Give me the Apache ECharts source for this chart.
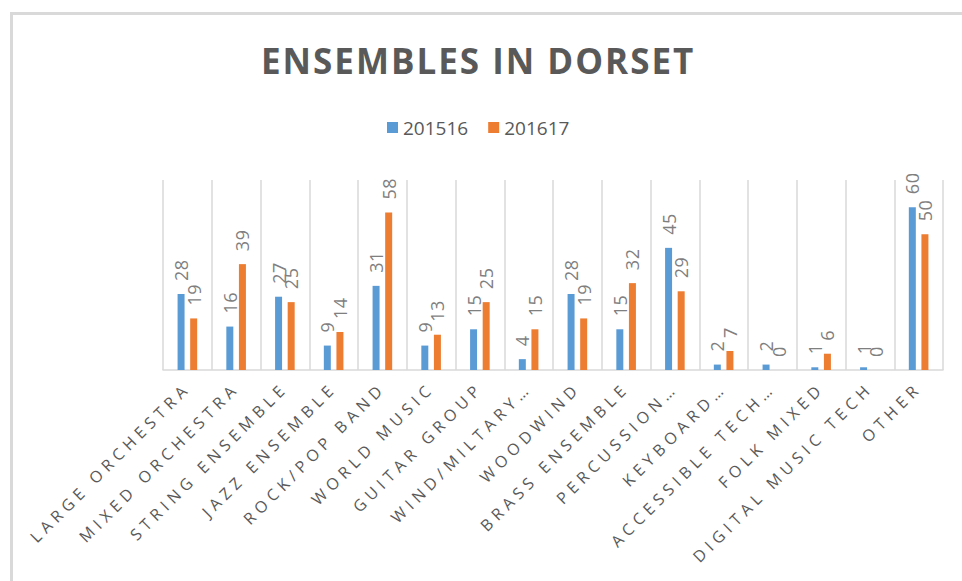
<!DOCTYPE html>
<html>
<head>
<meta charset="utf-8">
<script src="https://cdn.jsdelivr.net/npm/echarts@6/dist/echarts.min.js"></script>
<style>
  html, body { margin: 0; padding: 0; background: #fff; }
  .frame {
    position: absolute;
    left: 10px;
    top: 12px;
    width: 960px;
    height: 580px;
    border-top: 3px solid #d9d9d9;
    border-left: 3px solid #d9d9d9;
  }
  .echartsBox {
    position: absolute;
    left: 0;
    top: 0;
    width: 962px;
    height: 581px;
  }
  /* excel style spaced caps */
  #myChart text { letter-spacing: 5px; }
  #myChart text[style*="35px"] { letter-spacing: 2px; }
  #myChart text[style*="18px"] { letter-spacing: 0.5px; }
  #myChart text[style*="19px"] { letter-spacing: 0px; }
</style>
</head>
<body>
<div class="frame"></div>
<div id="myChart" class="echartsBox"></div>
<script>
const categories = [
  'LARGE ORCHESTRA', 'MIXED ORCHESTRA', 'STRING ENSEMBLE', 'JAZZ ENSEMBLE',
  'ROCK/POP BAND', 'WORLD MUSIC', 'GUITAR GROUP', 'WIND/MILTARY…',
  'WOODWIND', 'BRASS ENSEMBLE', 'PERCUSSION…', 'KEYBOARD…',
  'ACCESSIBLE TECH…', 'FOLK MIXED', 'DIGITAL MUSIC TECH', 'OTHER'
];
const series201516 = [28, 16, 27, 9, 31, 9, 15, 4, 28, 15, 45, 2, 2, 1, 1, 60];
const series201617 = [19, 39, 25, 14, 58, 13, 25, 15, 19, 32, 29, 7, 0, 6, 0, 50];

const font = '"Open Sans", "DejaVu Sans", sans-serif';

function valueLabel() {
  return {
    show: true,
    position: 'top',
    distance: 13,
    rotate: 90,
    align: 'left',
    verticalAlign: 'middle',
    color: '#7f7f7f',
    fontFamily: font,
    fontSize: 18,
  };
}

let myChart = echarts.init(document.getElementById('myChart'), null, { renderer: 'svg' });
myChart.setOption({
  animation: false,
  title: {
    text: 'ENSEMBLES IN DORSET',
    left: 256,
    top: 38,
    textStyle: {
      color: '#595959',
      fontFamily: font,
      fontWeight: 'bold',
      fontSize: 35,
    },
  },
  legend: {
    top: 113,
    left: 382,
    itemWidth: 11,
    itemHeight: 11,
    itemGap: 20,
    icon: 'rect',
    textStyle: {
      color: '#595959',
      fontFamily: font,
      fontSize: 19,
    },
  },
  grid: {
    left: 163,
    right: 19,
    top: 180,
    bottom: 211,
    outerBoundsMode: 'none',
  },
  xAxis: {
    type: 'category',
    data: categories,
    axisTick: { show: false },
    axisLine: {
      show: true,
      lineStyle: { color: '#d9d9d9', width: 1.5 },
    },
    splitLine: {
      show: true,
      lineStyle: { color: '#d9d9d9', width: 1.5 },
    },
    axisLabel: {
      interval: 0,
      rotate: 45,
      margin: 15,
      color: '#595959',
      fontFamily: font,
      fontSize: 16,
    },
  },
  yAxis: {
    type: 'value',
    min: 0,
    max: 70,
    show: false,
    splitLine: { show: false },
  },
  series: [
    {
      name: '201516',
      type: 'bar',
      data: series201516,
      barWidth: 7,
      barGap: '80%',
      itemStyle: { color: '#5b9bd5' },
      label: valueLabel(),
    },
    {
      name: '201617',
      type: 'bar',
      data: series201617,
      barWidth: 7,
      itemStyle: { color: '#ed7d31' },
      label: valueLabel(),
    },
  ],
});
</script>
</body>
</html>
